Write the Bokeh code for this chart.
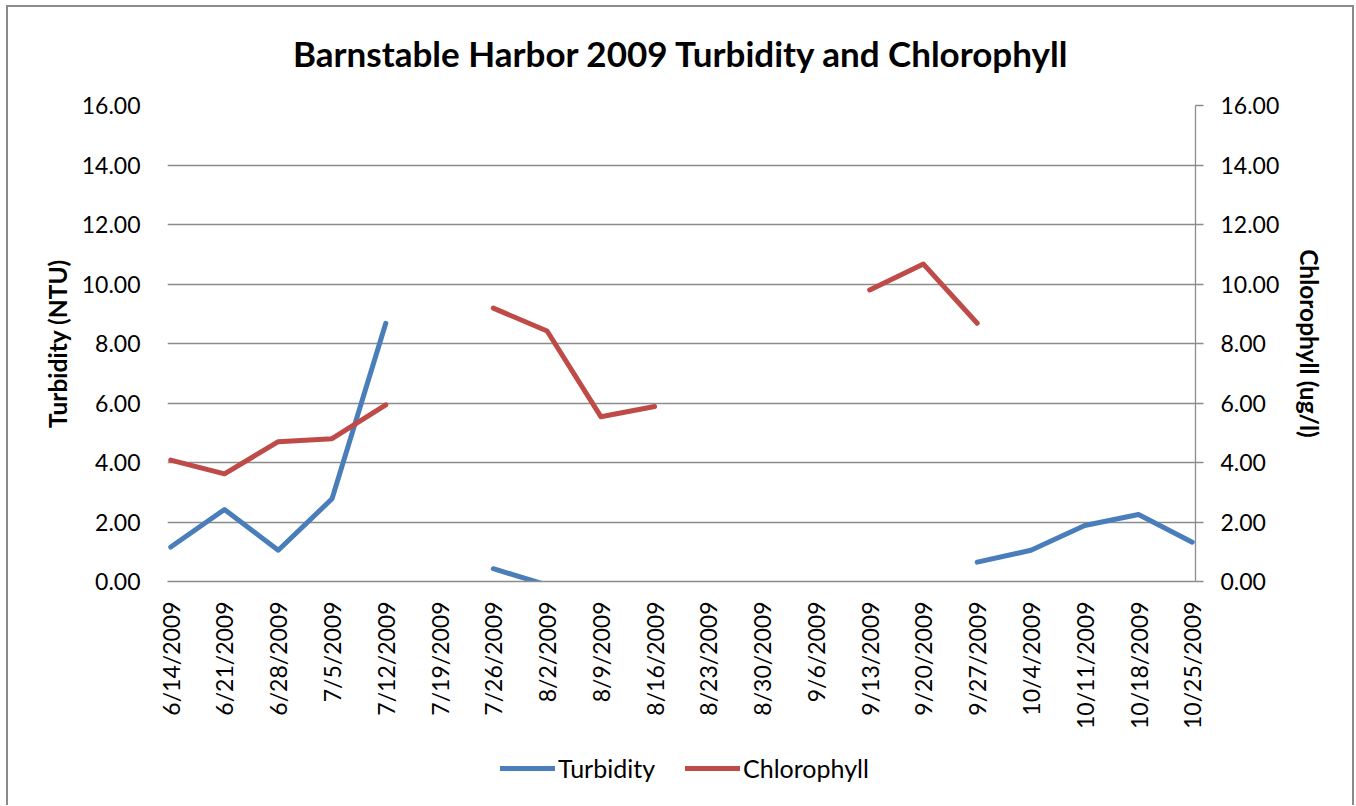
import math
from bokeh.plotting import figure
from bokeh.layouts import column
from bokeh.models import (Range1d, LinearAxis, FixedTicker, NumeralTickFormatter,
                          Legend, LegendItem, ColumnDataSource, Label)
from bokeh.embed import file_html
from bokeh.resources import INLINE

nan = float("nan")

chart_title = "Barnstable Harbor 2009 Turbidity and Chlorophyll"
categories = ["6/14/2009", "6/21/2009", "6/28/2009", "7/5/2009", "7/12/2009",
              "7/19/2009", "7/26/2009", "8/2/2009", "8/9/2009", "8/16/2009",
              "8/23/2009", "8/30/2009", "9/6/2009", "9/13/2009", "9/20/2009",
              "9/27/2009", "10/4/2009", "10/11/2009", "10/18/2009", "10/25/2009"]
turbidity = [1.16, 2.42, 1.05, 2.78, 8.68, nan, 0.43, -0.12, nan, nan,
             nan, nan, nan, nan, nan, 0.65, 1.05, 1.88, 2.25, 1.32]
chlorophyll = [4.08, 3.62, 4.70, 4.80, 5.94, nan, 9.19, 8.42, 5.54, 5.88,
               nan, nan, nan, 9.80, 10.67, 8.68, nan, nan, nan, nan]
series_names = ["Turbidity", "Chlorophyll"]
y_ticks = [0, 2, 4, 6, 8, 10, 12, 14, 16]

FONT = "Lato"
GRID = "#8c8c8c"
BLUE = "#4A7EBB"
RED = "#BE4B48"

x_idx = list(range(len(categories)))
src = ColumnDataSource(dict(x=x_idx, turb=turbidity, chl=chlorophyll))

# title strip
tf = figure(width=1348, height=84, output_backend="svg", toolbar_location=None,
            x_axis_type=None, y_axis_type=None,
            x_range=Range1d(0, 1), y_range=Range1d(0, 1),
            min_border_left=0, min_border_right=0, min_border_top=0,
            min_border_bottom=0)
tf.outline_line_color = None
tf.background_fill_color = None
tf.border_fill_color = None
tf.add_layout(Label(x=0.5, y=0.44, text=chart_title, text_align="center",
                    text_baseline="middle", text_font=FONT,
                    text_font_style="bold", text_font_size="35px",
                    text_color="black"))

p = figure(width=1348, height=646, output_backend="svg", toolbar_location=None,
           x_range=Range1d(-0.06, len(categories) - 1 + 0.06),
           y_range=Range1d(0, 16),
           min_border_left=161, min_border_right=159,
           min_border_top=16, min_border_bottom=154)
p.extra_y_ranges = {"chl": Range1d(0, 16)}
p.outline_line_color = None
p.background_fill_color = "white"
p.border_fill_color = None

# x axis
xa = p.xaxis[0]
xa.ticker = FixedTicker(ticks=x_idx)
xa.major_label_overrides = {i: c for i, c in enumerate(categories)}
xa.major_label_orientation = math.pi / 2
xa.major_label_text_font = FONT
xa.major_label_text_font_size = "23px"
xa.major_label_text_color = "black"
xa.major_label_standoff = 20
xa.major_tick_line_color = None
xa.major_tick_out = 0
xa.major_tick_in = 0
xa.minor_tick_line_color = None
xa.axis_line_color = GRID
xa.axis_line_width = 1.3

# left axis
ya = p.yaxis[0]
ya.ticker = FixedTicker(ticks=y_ticks)
ya.formatter = NumeralTickFormatter(format="0.00")
ya.axis_label = "Turbidity (NTU)"
ya.axis_label_text_font = FONT
ya.axis_label_text_font_style = "bold"
ya.axis_label_text_font_size = "24.5px"
ya.axis_label_text_color = "black"
ya.axis_label_standoff = 7
ya.major_label_text_font = FONT
ya.major_label_text_font_size = "23px"
ya.major_label_text_color = "black"
ya.major_label_standoff = 27
ya.axis_line_color = None
ya.major_tick_line_color = None
ya.major_tick_out = 0
ya.major_tick_in = 0
ya.minor_tick_line_color = None

# right axis
ra = LinearAxis(y_range_name="chl", ticker=FixedTicker(ticks=y_ticks),
                formatter=NumeralTickFormatter(format="0.00"))
ra.axis_label = "Chlorophyll (ug/l)"
ra.axis_label_text_font = FONT
ra.axis_label_text_font_style = "bold"
ra.axis_label_text_font_size = "24.5px"
ra.axis_label_text_color = "black"
ra.axis_label_standoff = 13
ra.major_label_text_font = FONT
ra.major_label_text_font_size = "23px"
ra.major_label_text_color = "black"
ra.major_label_standoff = 17
ra.axis_line_color = GRID
ra.axis_line_width = 1.3
ra.major_tick_line_color = GRID
ra.major_tick_line_width = 1.3
ra.major_tick_in = 0
ra.major_tick_out = 8
ra.minor_tick_line_color = None
p.add_layout(ra, "right")

# grid
p.xgrid.grid_line_color = None
p.ygrid.ticker = FixedTicker(ticks=y_ticks)
p.ygrid.grid_line_color = GRID
p.ygrid.grid_line_width = 1.3

p.line("x", "turb", source=src, line_color=BLUE, line_width=5,
       line_cap="round", line_join="round")
p.line("x", "chl", source=src, y_range_name="chl", line_color=RED,
       line_width=5, line_cap="round", line_join="round")

# legend strip below the chart (its lines use the same data, kept out of view)
lg = figure(width=1348, height=70, output_backend="svg", toolbar_location=None,
            x_axis_type=None, y_axis_type=None,
            x_range=Range1d(0, 1), y_range=Range1d(-200, -199),
            min_border_left=0, min_border_right=0, min_border_top=0,
            min_border_bottom=0)
lg.outline_line_color = None
lg.background_fill_color = None
lg.border_fill_color = None
lr1 = lg.line("x", "turb", source=src, line_color=BLUE, line_width=5,
              line_cap="round")
lr2 = lg.line("x", "chl", source=src, line_color=RED, line_width=5,
              line_cap="round")
legend = Legend(items=[LegendItem(label=series_names[0], renderers=[lr1]),
                       LegendItem(label=series_names[1], renderers=[lr2])],
                orientation="horizontal", location=(333, 22),
                label_text_font=FONT, label_text_font_size="25px",
                label_text_color="black", glyph_width=55, glyph_height=24,
                label_standoff=3, spacing=30, border_line_color=None,
                background_fill_alpha=0, padding=0, margin=0)
lg.add_layout(legend)

layout = column(tf, p, lg, spacing=0,
                styles={"margin-left": "6px", "margin-top": "5px",
                        "box-shadow": "inset 2px 2px 0 #8a8a8a, inset -2px 0 0 #8a8a8a"})

open("out.html", "w").write(file_html(layout, INLINE))
